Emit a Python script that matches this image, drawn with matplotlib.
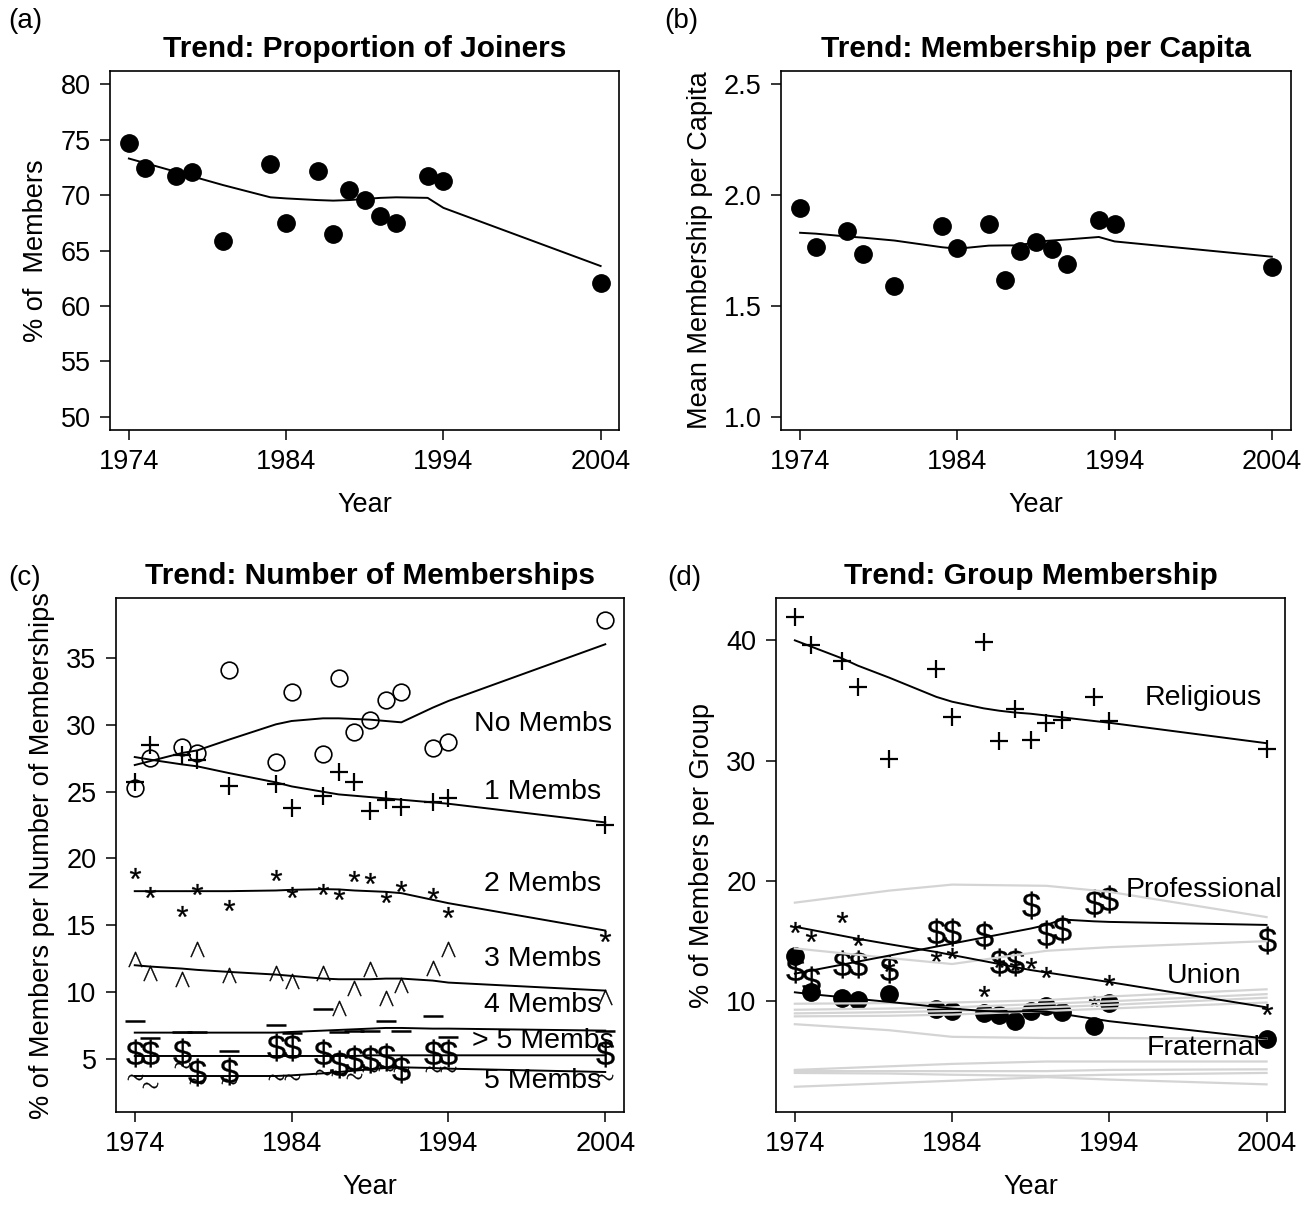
import matplotlib
matplotlib.use('Agg')
from matplotlib import pyplot as plt

plt.rcParams['font.family'] = ['Liberation Sans', 'DejaVu Sans']
plt.rcParams['mathtext.fontset'] = 'custom'
plt.rcParams['mathtext.rm'] = 'Liberation Sans'
plt.rcParams['mathtext.it'] = 'Liberation Sans'

years = [1974, 1975, 1977, 1978, 1980, 1983, 1984, 1986, 1987, 1988, 1989, 1990, 1991, 1993, 1994, 2004]
year_ticks = [1974, 1984, 1994, 2004]

# (a) proportion of joiners
joiners = [74.7, 72.4, 71.7, 72.1, 65.9, 72.8, 67.5, 72.2, 66.5, 70.5, 69.6, 68.1, 67.5, 71.7, 71.3, 62.1]
joiners_fit = [73.3, 72.9, 72.1, 71.7, 70.9, 69.8, 69.7, 69.55, 69.5, 69.55, 69.65, 69.75, 69.8, 69.75, 68.85, 63.6]

# (b) membership per capita
percap = [1.942, 1.768, 1.836, 1.733, 1.590, 1.860, 1.762, 1.868, 1.618, 1.748, 1.788, 1.758, 1.687, 1.887, 1.871, 1.675]
percap_fit = [1.830, 1.826, 1.813, 1.808, 1.795, 1.765, 1.758, 1.772, 1.773, 1.773, 1.790, 1.795, 1.800, 1.811, 1.791, 1.722]

# (c) number of memberships
memb_none = [25.3, 27.5, 28.35, 27.9, 34.15, 27.25, 32.45, 27.85, 33.55, 29.5, 30.4, 31.9, 32.45, 28.3, 28.7, 37.9]
memb_none_fit = [27.0, 27.3, 27.9, 28.1, 28.9, 30.05, 30.3, 30.5, 30.5, 30.45, 30.4, 30.3, 30.2, 31.3, 31.8, 36.05]
memb_one = [25.7, 28.5, 27.75, 27.35, 25.4, 25.6, 23.75, 24.7, 26.5, 25.7, 23.55, 24.35, 23.85, 24.2, 24.55, 22.5]
memb_one_fit = [27.6, 27.4, 27.05, 26.9, 26.4, 25.7, 25.4, 25.0, 24.8, 24.7, 24.6, 24.5, 24.4, 24.2, 24.1, 22.7]
memb_two = [18.9, 17.5, 16.05, 17.7, 16.55, 18.75, 17.5, 17.7, 17.35, 18.7, 18.5, 17.1, 17.9, 17.4, 16.0, 14.2]
memb_two_fit = [17.55, 17.55, 17.55, 17.55, 17.55, 17.6, 17.65, 17.7, 17.68, 17.6, 17.55, 17.5, 17.4, 16.9, 16.65, 14.6]
memb_three = [12.5, 11.4, 11.0, 13.2, 11.3, 11.4, 10.8, 11.4, 8.8, 10.3, 11.7, 9.55, 10.55, 11.8, 13.2, 9.6]
memb_three_fit = [12.0, 11.9, 11.75, 11.65, 11.5, 11.3, 11.2, 11.0, 10.95, 10.95, 10.95, 11.0, 11.0, 10.85, 10.7, 10.1]
memb_four = [7.8, 6.55, 7.0, 7.0, 5.6, 7.55, 6.9, 8.75, 7.0, 7.1, 7.1, 7.8, 7.1, 8.2, 6.6, 7.1]
memb_four_fit = [6.95, 6.95, 6.95, 6.95, 6.95, 6.95, 7.0, 7.1, 7.15, 7.2, 7.25, 7.3, 7.3, 7.25, 7.25, 7.1]
memb_gt5 = [5.4, 5.4, 5.5, 4.0, 4.1, 5.9, 5.9, 5.4, 4.6, 5.0, 5.0, 5.1, 4.25, 5.4, 5.4, 5.4]
memb_gt5_fit = [5.2, 5.2, 5.2, 5.2, 5.2, 5.2, 5.2, 5.2, 5.2, 5.2, 5.25, 5.25, 5.25, 5.25, 5.25, 5.25]
memb_five = [3.6, 3.05, 4.5, 3.3, 3.3, 3.6, 3.6, 4.0, 3.9, 3.7, 4.2, 4.3, 4.2, 4.2, 4.2, 3.6]
memb_five_fit = [3.7, 3.7, 3.7, 3.7, 3.7, 3.7, 3.75, 3.9, 4.0, 4.1, 4.2, 4.3, 4.35, 4.3, 4.25, 4.0]

# (d) group membership
religious = [41.9, 39.6, 38.3, 36.1, 30.15, 37.6, 33.6, 39.9, 31.6, 34.3, 31.7, 33.1, 33.4, 35.3, 33.3, 31.0]
religious_fit = [40.0, 39.5, 38.5, 37.9, 36.9, 35.3, 34.9, 34.35, 34.15, 34.0, 33.9, 33.75, 33.6, 33.3, 33.15, 31.45]
professional = [12.7, 11.8, 13.1, 13.1, 12.7, 15.8, 15.8, 15.5, 13.3, 13.3, 18.0, 15.6, 16.0, 18.2, 18.5, 15.1]
professional_fit = [12.3, 12.55, 13.05, 13.3, 13.8, 14.55, 14.8, 15.3, 15.55, 15.8, 16.05, 16.35, 16.8, 16.65, 16.6, 16.35]
union = [16.2, 15.4, 17.0, 15.1, 12.9, 13.8, 14.05, 10.9, 13.3, 13.0, 13.2, 12.4, 9.3, 10.0, 11.8, 9.4]
union_fit = [16.2, 15.95, 15.45, 15.2, 14.75, 14.1, 13.85, 13.35, 13.1, 12.85, 12.6, 12.4, 12.2, 11.8, 11.6, 9.5]
fraternal = [13.8, 10.8, 10.25, 10.1, 10.6, 9.35, 9.2, 9.0, 8.9, 8.4, 9.2, 9.65, 9.1, 7.95, 9.85, 6.85]
fraternal_fit = [10.75, 10.6, 10.35, 10.2, 9.95, 9.55, 9.4, 9.2, 9.15, 9.15, 9.2, 9.15, 8.95, 8.55, 8.35, 6.9]

# other groups (grey background trends)
grey_years = [1974, 1980, 1984, 1990, 1994, 2004]
other_groups = [
    [18.2, 19.2, 19.7, 19.6, 19.1, 17.0],
    [14.4, 13.6, 13.1, 14.2, 14.5, 15.0],
    [9.8, 9.85, 9.9, 10.1, 10.4, 11.0],
    [9.3, 9.4, 9.5, 9.8, 10.0, 10.6],
    [9.0, 9.1, 9.2, 9.5, 9.7, 10.3],
    [8.75, 8.8, 8.9, 9.2, 9.4, 9.9],
    [8.1, 7.6, 7.05, 6.95, 6.95, 6.9],
    [4.3, 4.6, 4.8, 5.0, 5.0, 5.0],
    [4.2, 4.2, 4.2, 4.2, 4.3, 4.35],
    [4.05, 4.0, 3.9, 3.8, 3.9, 4.05],
    [2.9, 3.2, 3.4, 3.7, 3.5, 3.1],
]

FS = 19.5
fig = plt.figure(figsize=(13.13, 12.09), dpi=100)
ax_a = fig.add_axes([0.0838, 0.6443, 0.388, 0.297])
ax_b = fig.add_axes([0.595, 0.6443, 0.388, 0.297])
ax_c = fig.add_axes([0.0883, 0.0802, 0.387, 0.425])
ax_d = fig.add_axes([0.591, 0.0802, 0.388, 0.425])


def style(ax, title, ylabel):
    ax.set_xlim(1972.8, 2005.2)
    ax.set_xticks(year_ticks)
    ax.set_title(title, fontsize=21.5, fontweight='bold', pad=10)
    ax.set_xlabel('Year', fontsize=FS, labelpad=12)
    ax.set_ylabel(ylabel, fontsize=FS, labelpad=8)
    ax.tick_params(axis='both', direction='out', length=7, width=1.1, labelsize=FS, pad=7)
    for sp in ax.spines.values():
        sp.set_linewidth(1.2)


# (a)
ax_a.plot(years, joiners_fit, color='black', lw=1.4)
ax_a.plot(years, joiners, 'o', color='black', ms=12.5, ls='none')
ax_a.set_ylim(48.8, 81.2)
ax_a.set_yticks([50, 55, 60, 65, 70, 75, 80])
style(ax_a, 'Trend: Proportion of Joiners', '% of  Members')

# (b)
ax_b.plot(years, percap_fit, color='black', lw=1.4)
ax_b.plot(years, percap, 'o', color='black', ms=12.5, ls='none')
ax_b.set_ylim(0.94, 2.56)
ax_b.set_yticks([1.0, 1.5, 2.0, 2.5])
ax_b.set_yticklabels(['1.0', '1.5', '2.0', '2.5'])
style(ax_b, 'Trend: Membership per Capita', 'Mean Membership per Capita')

# (c)
series_c = [
    (memb_none, memb_none_fit, dict(marker='o', ms=12, mfc='none', mew=1.2), 'No Membs', 30.1),
    (memb_one, memb_one_fit, dict(marker='+', ms=13, mew=1.6), '1 Membs', 25.0),
    (memb_two, memb_two_fit, dict(marker='$*$', ms=8, mew=0.2), '2 Membs', 18.05),
    (memb_three, memb_three_fit, dict(marker=r'$\wedge$', ms=11, mew=0.3), '3 Membs', 12.5),
    (memb_four, memb_four_fit, dict(marker='_', ms=14, mew=1.8), '4 Membs', 9.05),
    (memb_gt5, memb_gt5_fit, dict(marker=r'$\$$', ms=20, mew=0.2), '> 5 Membs', 6.3),
    (memb_five, memb_five_fit, dict(marker=r'$\sim$', ms=11, mew=0.3), '5 Membs', 3.35),
]
for vals, fit, mk, lab, ly in series_c:
    ax_c.plot(years, fit, color='black', lw=1.4)
    ax_c.plot(years, vals, ls='none', color='black', **mk)
    ax_c.text(2000, ly, lab, fontsize=20.5, ha='center', va='center')
ax_c.set_ylim(1.0, 39.5)
ax_c.set_yticks([5, 10, 15, 20, 25, 30, 35])
style(ax_c, 'Trend: Number of Memberships', '% of Members per Number of Memberships')

# (d)
for g in other_groups:
    ax_d.plot(grey_years, g, color='#d4d4d4', lw=1.6, zorder=2.6)
series_d = [
    (religious, religious_fit, dict(marker='+', ms=13, mew=1.6), 'Religious', 35.2),
    (professional, professional_fit, dict(marker=r'$\$$', ms=20, mew=0.2), 'Professional', 19.25),
    (union, union_fit, dict(marker='$*$', ms=8, mew=0.2), 'Union', 12.1),
    (fraternal, fraternal_fit, dict(marker='o', ms=12.5), 'Fraternal', 6.1),
]
for vals, fit, mk, lab, ly in series_d:
    ax_d.plot(years, fit, color='black', lw=1.4, zorder=3)
    ax_d.plot(years, vals, ls='none', color='black', zorder=2.5, **mk)
    ax_d.text(2000, ly, lab, fontsize=20.5, ha='center', va='center', zorder=4)
ax_d.set_ylim(0.8, 43.5)
ax_d.set_yticks([10, 20, 30, 40])
style(ax_d, 'Trend: Group Membership', '% of Members per Group')

for lab, x, y in [('(a)', 0.019, 0.983), ('(b)', 0.519, 0.983), ('(c)', 0.019, 0.522), ('(d)', 0.521, 0.522)]:
    fig.text(x, y, lab, fontsize=20, ha='center', va='center')

fig.savefig('out.png', dpi=100)
